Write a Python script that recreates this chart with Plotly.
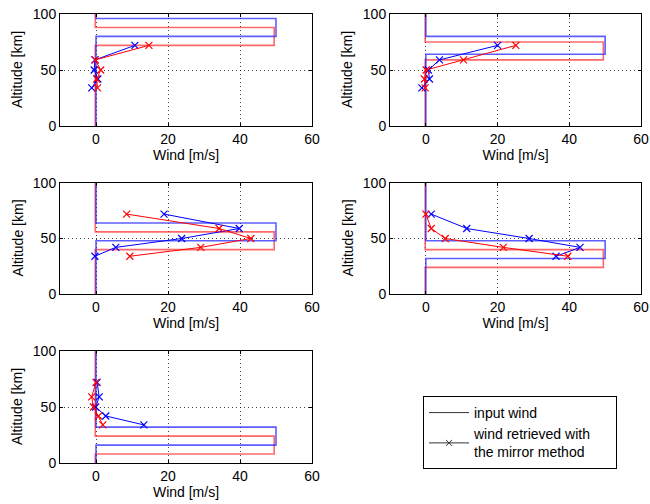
import plotly.graph_objects as go

# ---- data ----
alt_retrieved = [72, 59, 50, 42, 34]

blue_retrieved = [
    [10.8, -0.3, -0.5, 0.5, -1.2],
    [20.0, 3.8, 0.7, 1.0, -1.1],
    [18.9, 39.8, 23.8, 5.5, -0.3],
    [1.5, 11.4, 28.8, 43.0, 36.3],
    [0.3, 0.9, -0.1, 2.7, 13.3],
]
red_retrieved = [
    [14.7, -0.2, 1.3, 0.2, 0.4],
    [25.1, 10.5, 0.1, -0.4, -0.2],
    [8.5, 34.2, 43.0, 29.1, 9.4],
    [0.0, 1.5, 5.4, 21.6, 39.6],
    [0.0, -1.2, -0.7, 0.7, 1.9],
]

blue_box_bottom = [80, 64, 48, 32, 16]
blue_box_top = [96, 80, 64, 48, 32]
red_box_bottom = [72, 59, 40, 24, 8]
red_box_top = [88, 75, 56, 40, 24]
blue_amp = 50.0
red_amp = 49.5
blue_base = 0.0
red_base = -0.2

x_ticks = [0, 20, 40, 60]
y_ticks = [0, 50, 100]

x_title = "Wind [m/s]"
y_title = "Altitude [km]"
legend_names = ["input wind", "wind retrieved with<br>the mirror method"]

# ---- figure ----
W, H = 650, 504
fig = go.Figure()

col_px = [(60, 312), (390, 641)]
row_px = [(14, 126), (183, 294), (351, 463)]
positions = [(0, 0), (0, 1), (1, 0), (1, 1), (2, 0)]

BLUE = "#0000ff"
RED = "#ff0000"
BLUE_IN = "rgba(40,40,255,0.75)"
RED_IN = "rgba(255,40,40,0.7)"
FONT = "Liberation Sans, Arial, Helvetica, sans-serif"
FS = 14

def profile(base, amp, b, t):
    return [base, base, amp, amp, base, base], [0, b, b, t, t, 100]

annotations = []
for i, (r, c) in enumerate(positions):
    k = i + 1
    xa = "x" if k == 1 else f"x{k}"
    ya = "y" if k == 1 else f"y{k}"
    wx, wy = profile(red_base, red_amp, red_box_bottom[i], red_box_top[i])
    fig.add_trace(go.Scatter(x=wx, y=wy, mode="lines", line=dict(color=RED_IN, width=1.6),
                             xaxis=xa, yaxis=ya, showlegend=False, hoverinfo="skip"))
    wx, wy = profile(blue_base, blue_amp, blue_box_bottom[i], blue_box_top[i])
    fig.add_trace(go.Scatter(x=wx, y=wy, mode="lines", line=dict(color=BLUE_IN, width=1.6),
                             xaxis=xa, yaxis=ya, showlegend=False, hoverinfo="skip"))
    fig.add_trace(go.Scatter(x=blue_retrieved[i], y=alt_retrieved, mode="lines+markers",
                             line=dict(color=BLUE, width=1),
                             marker=dict(symbol="x-thin", size=7, line=dict(color=BLUE, width=1.2)),
                             xaxis=xa, yaxis=ya, showlegend=False))
    fig.add_trace(go.Scatter(x=red_retrieved[i], y=alt_retrieved, mode="lines+markers",
                             line=dict(color=RED, width=1),
                             marker=dict(symbol="x-thin", size=7, line=dict(color=RED, width=1.2)),
                             xaxis=xa, yaxis=ya, showlegend=False))

    x0, x1 = col_px[c]
    y0, y1 = row_px[r]
    axcommon = dict(showline=True, linecolor="black", linewidth=1, mirror="ticks",
                    ticks="inside", ticklen=3, tickcolor="black",
                    showgrid=True, gridcolor="rgba(0,0,0,0.75)", griddash="1px,3px", gridwidth=1,
                    zeroline=False, ticklabeloverflow="allow",
                    tickfont=dict(size=FS, color="black", family=FONT))
    fig.layout[f"xaxis{k if k > 1 else ''}"] = dict(
        domain=[x0 / W, x1 / W], anchor=ya, range=[-10, 60], tickvals=x_ticks,
        title=dict(text=x_title, font=dict(size=FS, color="black", family=FONT), standoff=1),
        **axcommon)
    fig.layout[f"yaxis{k if k > 1 else ''}"] = dict(
        domain=[1 - y1 / H, 1 - y0 / H], anchor=xa, range=[0, 100], tickvals=y_ticks,
        **axcommon)
    annotations.append(dict(text=y_title, textangle=-90, showarrow=False,
                            xref=f"{xa} domain", yref=f"{ya} domain", x=0, y=0.5,
                            xanchor="center", yanchor="middle", xshift=-43,
                            font=dict(size=FS, color="black", family=FONT)))

fig.add_trace(go.Scatter(x=[None], y=[None], mode="lines", name=legend_names[0],
                         line=dict(color="#333333", width=1)))
fig.add_trace(go.Scatter(x=[None], y=[None], mode="lines+markers",
                         name=legend_names[1].replace("<br>", "\u00a0\u00a0\u00a0\u00a0\u00a0<br>"),
                         line=dict(color="#333333", width=1),
                         marker=dict(symbol="x-thin", size=6, line=dict(color="#333333", width=1))))

fig.update_layout(
    width=W, height=H,
    margin=dict(l=0, r=0, t=0, b=0, autoexpand=False),
    paper_bgcolor="white", plot_bgcolor="white",
    font=dict(family=FONT, size=FS, color="black"),
    annotations=annotations,
    legend=dict(x=423 / W, y=1 - 396 / H, xanchor="left", yanchor="top",
                bordercolor="black", borderwidth=1, bgcolor="white",
                font=dict(size=FS, color="black", family=FONT),
                tracegroupgap=0, itemwidth=40),
)

fig.write_html("out.html", config={"displayModeBar": False},
               post_script="document.body.style.margin='0';document.body.style.overflow='hidden';")
